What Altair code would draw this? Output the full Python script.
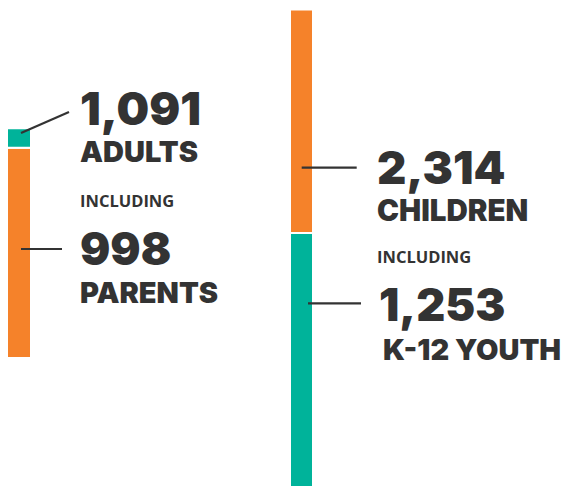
import altair as alt
import pandas as pd

# ---- data ----
adults_total = 1091
parents = 998
children_total = 2314
k12_youth = 1253

left_segments = ["Parents", "Other adults"]
left_values = [parents, adults_total - parents]
right_segments = ["K-12 youth", "Other children"]
right_values = [k12_youth, children_total - k12_youth]

seg_domain = ["Parents", "Other adults", "K-12 youth", "Other children"]
ORANGE = "#F5822A"
TEAL = "#00B39A"
seg_colors = [ORANGE, TEAL, TEAL, ORANGE]
DARK = "#333333"

HEAVY = "Inter"
LIGHT = "Open Sans"

# ---- layout ----
W, H = 553, 478
PX_PER_PERSON = 0.2107
LEFT_BOTTOM_PX = 350      # pixel row of the bottom of the adults bar
RIGHT_TOP_PX = 1.5        # pixel row of the top of the children bar


def px_to_people(py):
    return (H - py) / PX_PER_PERSON


def stack(segments, values, base):
    start, rows = base, []
    for s, v in zip(segments, values):
        rows.append({"segment": s, "start": start, "end": start + v})
        start += v
    return pd.DataFrame(rows)


yscale = alt.Scale(domain=[0, H / PX_PER_PERSON], nice=False, zero=False)


def bar(df, x0, x1):
    return alt.Chart(df).mark_bar(stroke="white", strokeWidth=2).encode(
        x=alt.value(x0), x2=alt.value(x1),
        y=alt.Y("start:Q", axis=None, scale=yscale),
        y2="end:Q",
        color=alt.Color("segment:N", legend=None,
                        scale=alt.Scale(domain=seg_domain, range=seg_colors)),
    )


def label(text, x, y, size, font, weight):
    return alt.Chart(pd.DataFrame({"t": [text]})).mark_text(
        align="left", baseline="alphabetic", font=font, fontSize=size,
        fontWeight=weight, color=DARK,
    ).encode(x=alt.value(x), y=alt.value(y), text="t:N")


def rule(x0, y0, x1, y1):
    return alt.Chart(pd.DataFrame({"a": [0]})).mark_rule(
        color=DARK, strokeWidth=2.2).encode(
        x=alt.value(x0), y=alt.value(y0), x2=alt.value(x1), y2=alt.value(y1))


left_base = px_to_people(LEFT_BOTTOM_PX)
right_base = px_to_people(RIGHT_TOP_PX) - children_total

chart = alt.layer(
    bar(stack(left_segments, left_values, left_base), -1, 23),
    bar(stack(right_segments, right_values, right_base), 282, 305),
    rule(13, 125, 61, 104),
    rule(13, 241, 54, 241),
    rule(293.7, 159.7, 348.7, 159.7),
    rule(300, 295.3, 353, 295.3),
    label(f"{adults_total:,}", 72, 117, 46, HEAVY, 900),
    label("ADULTS", 72, 153.7, 29, HEAVY, 900),
    label("INCLUDING", 72, 199.3, 16.5, LIGHT, 700),
    label(f"{parents:,}", 72, 257, 45, HEAVY, 900),
    label("PARENTS", 72, 295.3, 29, HEAVY, 900),
    label(f"{children_total:,}", 369, 176.3, 45.5, HEAVY, 900),
    label("CHILDREN", 369, 213, 29.5, HEAVY, 900),
    label("INCLUDING", 369, 254.7, 16.5, LIGHT, 700),
    label(f"{k12_youth:,}", 371, 313, 45, HEAVY, 900),
    label("K-12 YOUTH", 375, 352, 29, HEAVY, 900),
).properties(
    width=W, height=H, padding=0, autosize=alt.AutoSizeParams(type="none")
).configure_view(stroke=None)

chart.save("out.html", embed_options={"renderer": "svg", "actions": False})
